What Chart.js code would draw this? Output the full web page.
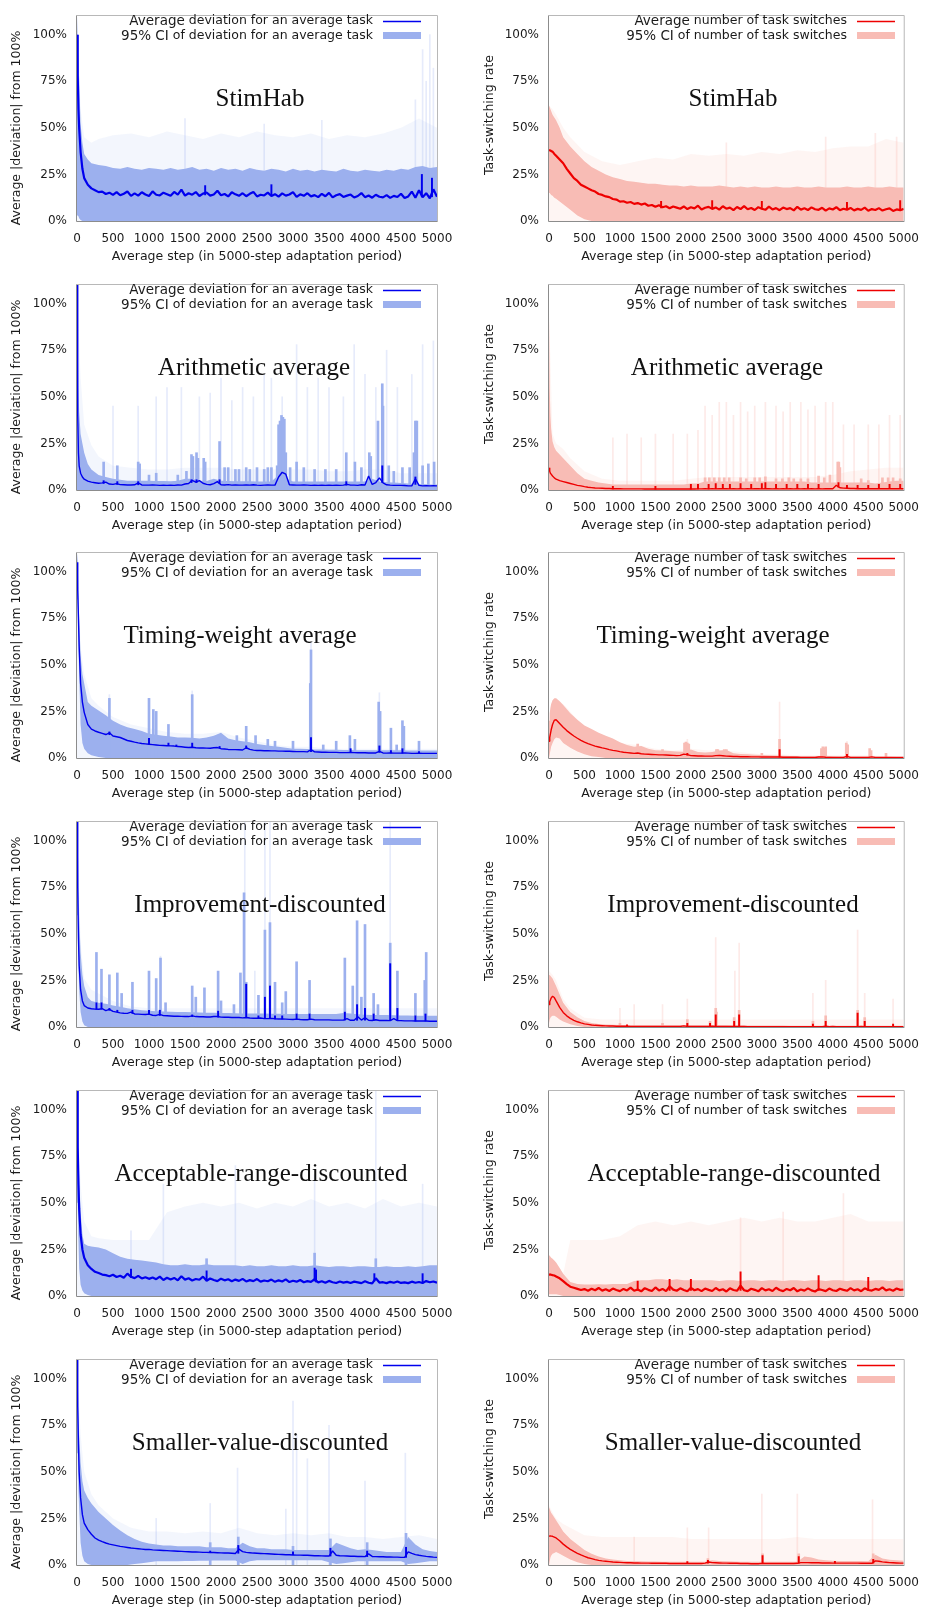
<!DOCTYPE html>
<html><head><meta charset="utf-8">
<script src="https://cdn.jsdelivr.net/npm/chart.js@4.4.1/dist/chart.umd.min.js"></script>
<style>
html,body{margin:0;padding:0;background:#fff;}
#wrap{position:relative;width:930px;height:1609px;overflow:hidden;}
.cell{position:absolute;width:465px;height:269px;}
canvas{display:block;}
</style></head><body><div id="wrap"></div>
<script>
// ---------- axes / text ----------
const X_TICKS = [0,500,1000,1500,2000,2500,3000,3500,4000,4500,5000];
const Y_TICKS = [0,25,50,75,100];
const X_TITLE = 'Average step (in 5000-step adaptation period)';
const Y_TITLE_DEV = 'Average |deviation| from 100%';
const Y_TITLE_SW = 'Task-switching rate';
const LEGEND_DEV = [['Average',' deviation for an average task'],['95% CI',' of deviation for an average task']];
const LEGEND_SW = [['Average',' number of task switches'],['95% CI',' of number of task switches']];
const TITLES = ['StimHab','Arithmetic average','Timing-weight average','Improvement-discounted','Acceptable-range-discounted','Smaller-value-discounted'];

// ---------- step grids ----------
const STEPS_FINE = [0,10,20,30,50,75,100,150,200,250,
300,350,400,450,500,550,600,650,700,750,
800,850,900,950,1000,1050,1100,1150,1200,1250,
1300,1350,1400,1450,1500,1550,1600,1650,1700,1750,
1800,1850,1900,1950,2000,2050,2100,2150,2200,2250,
2300,2350,2400,2450,2500,2550,2600,2650,2700,2750,
2800,2850,2900,2950,3000,3050,3100,3150,3200,3250,
3300,3350,3400,3450,3500,3550,3600,3650,3700,3750,
3800,3850,3900,3950,4000,4050,4100,4150,4200,4250,
4300,4350,4400,4450,4500,4550,4600,4650,4700,4750,
4800,4850,4900,4950,5000];
const STEPS_BAND = [0,10,20,30,50,75,100,150,
200,300,400,500,600,700,800,900,1000,1100,
1200,1300,1400,1500,1600,1700,1800,1900,2000,2100,
2200,2300,2400,2500,2600,2700,2800,2900,3000,3100,
3200,3300,3400,3500,3600,3700,3800,3900,4000,4100,
4200,4300,4400,4500,4600,4700,4800,4900,5000];
const STEPS_HAZE = [0,50,100,200,300,500,750,1000,1250,1500,1750,2000,2250,2500,2750,3000,3250,3500,3750,4000,4250,4500,4750,5000];

// ---------- 1. StimHab ----------
const stimDevMean = [100,78,60,50,37,28,23,19.5,17.5,16.5,
15.5,15.8,14.5,15.2,14,15.5,13.8,14.6,15.8,13.5,
14.8,13.6,15.4,14.2,13.4,15.9,14.1,13.7,15.2,14.4,
13.5,15.6,14.2,16.8,13.6,14.9,14.1,15.5,13.4,14.7,
15.3,13.6,14.2,16.2,13.8,14.5,13.2,15.4,14.3,13.5,
14.9,13.3,14.6,15.6,13.2,14.1,13.7,15.2,13.4,14.4,
13.1,14.8,13.6,14.2,15.5,12.9,14.3,13.5,14.9,13.2,
13.9,12.8,14.6,13.3,15.1,12.7,13.8,14.4,12.9,13.6,
14.2,12.6,13.4,15.0,12.8,13.7,12.5,14.1,13.0,12.7,
13.9,12.4,13.5,12.9,14.6,12.3,13.2,15.8,12.5,16.5,
12.8,14.9,12.2,17.0,13.0];
const stimDevUpper = [110,95,85,76,52,42,36,33,
31,30,29.5,28.5,28,29,28,27.5,28.5,28,
27.5,28.5,27.5,28,29,27.5,28,27,28.5,27.5,
28,27,28.5,27.5,27,28,27.5,26.5,28,27,
27.5,26.5,27.5,27,26.5,28,27,26.5,27.5,27,
26.5,27.5,27,28,27.5,29,29.5,28.5,29];
const stimDevLower = [5,3,2.5,1.5,0.5,0,0,0,
0,0,0,0,0,0,0,0,0,0,
0,0,0,0,0,0,0,0,0,0,
0,0,0,0,0,0,0,0,0,0,
0,0,0,0,0,0,0,0,0,0,
0,0,0,0,0,0,0,0,0];
const stimDevHaze = [110,60,45,42,44,46,47,45,48,46,44,47,45,48,46,45,47,44,46,45,47,50,55,50];
const stimDevHazeSpikes = [[1500,55],[2600,52],[3400,54],[4700,65],[4800,92],[4850,75],[4900,100],[4950,82]];
const stimDevBandSpikes = [];
const stimDevMeanSpikes = [[1780,14,19],[2700,14,19.5],[4790,13,25],[4930,13,23]];

const stimSwMean = [38,38,37.8,37.6,37.2,36,35,33,31,28,
25.5,23,21.5,19.5,18.5,17.5,16.5,15.8,14.5,14,
13.2,12.8,11.8,11.5,10.4,10.6,9.8,10.2,9.2,9.6,
8.8,9.4,8.2,8.6,7.6,8.4,7.4,7.9,6.8,7.8,
7.2,6.6,7.8,6.4,7.4,6.8,8.2,6.2,7.1,7.6,
6.5,7.3,6.1,7.9,6.6,7.2,5.8,7.5,6.4,8.0,
6.3,7.0,5.9,7.4,6.6,6.0,7.7,6.2,6.9,5.8,
7.2,6.4,6.9,5.7,7.6,6.1,6.8,5.9,7.3,6.3,
6.0,7.1,5.6,6.8,6.2,7.4,5.8,6.6,6.1,7.0,
5.7,6.5,6.0,7.2,5.5,6.4,5.9,6.9,5.6,6.3,
6.8,5.4,6.2,5.8,6.5];
const stimSwUpper = [62,61,60,59,57,55.5,54,50,
45,40,36,32,29,27,25,23.5,22.5,21.5,
21,20.5,20,20,19.5,19,19,18.5,19,18.5,
18.5,18.5,19,18.5,18,18.5,18,18.5,18,18,
18.5,18,18,18.5,18,18,18.5,18,18,18,
18.5,18,18,18.5,18,18,18.5,18,18];
const stimSwLower = [15,15,14.5,14,13.5,12.5,12,10.5,
9,6,3,1,0,0,0,0,0,0,
0,0,0,0,0,0,0,0,0,0,
0,0,0,0,0,0,0,0,0,0,
0,0,0,0,0,0,0,0,0,0,
0,0,0,0,0,0,0,0,0];
const stimSwHaze = [62,60,57,50,45,37,32,30,32,34,33,36,35,36,35,37,36,38,37,39,40,40,44,42];
const stimSwHazeSpikes = [[2500,42],[3900,45],[4600,47],[4900,45]];
const stimSwBandSpikes = [];
const stimSwMeanSpikes = [[1580,7,10.5],[2300,7,11],[3000,6.5,10.5],[4200,6.5,10],[4950,6,11]];

// ---------- 2. Arithmetic average ----------
const arithDevMean = [110,40,20,13,9,7,5.8,4.8,4.2,3.9,
3.6,3.8,4.2,3.2,3.0,3.4,2.9,2.8,2.7,2.7,
2.8,3.8,2.7,2.6,2.6,2.7,2.6,2.5,2.6,2.5,
2.6,2.5,2.7,2.6,3.2,3.5,5.2,4.2,5.0,3.6,
3.0,2.8,3.4,4.5,2.8,2.7,2.9,2.6,2.7,2.6,
2.6,2.7,2.6,2.8,2.6,2.5,2.6,2.7,2.6,2.6,
7.0,9.5,8.5,2.8,2.7,2.6,2.6,2.7,2.6,2.5,
2.6,2.5,2.6,2.5,2.6,2.5,2.6,2.5,2.6,3.0,
2.6,2.6,2.5,2.8,2.7,7.5,3.0,4.0,6.5,3.8,
2.8,2.6,2.5,2.5,2.5,2.4,2.2,2.2,6.0,2.5,
2.2,2.3,2.2,2.3,2.2];
const arithDevUpper = [110,80,55,42,30,25,20,14,
11,8,7,6,5.5,5,5,5,5,4.8,
4.8,4.7,5,6,6,5,4.8,6,5,4.8,
4.7,4.7,4.7,4.6,4.6,4.6,8,6,4.6,4.6,
4.6,4.6,4.5,4.5,4.5,4.5,4.5,4.5,4.5,6,
4.5,4.2,4.0,3.8,3.5,3.2,3.2,3.0,3.0];
const arithDevLower = [0,0,0,0,0,0,0,0,
0,0,0,0,0,0,0,0,0,0,
0,0,0,0,0,0,0,0,0,0,
0,0,0,0,0,0,0,0,0,0,
0,0,0,0,0,0,0,0,0,0,
0,0,0,0,0,0,0,0,0];
const arithDevHaze = [110,60,35,24,18,13,12,11,11,12,12,12,11,11,11,11,11,10,10,11,11,9,9,9];
const arithDevHazeSpikes = [[500,45],[850,45],[1100,50],[1250,55],[1450,55],[1700,50],[1850,52],[2000,60],[2150,48],[2300,55],[2450,50],[2600,62],[2700,60],[2850,50],[3050,78],[3200,55],[3350,60],[3500,55],[3700,50],[3850,78],[4000,62],[4150,55],[4300,75],[4450,55],[4650,62],[4800,78],[4950,80]];
const arithDevBandSpikes = [[370,15],[560,13],[850,15],[870,14],[1000,8],[1100,9],[1400,8],[1520,10],[1590,19],[1610,18],[1660,20],[1680,17],[1760,17],[1780,15],[1980,26],[2050,12],[2100,12],[2200,11],[2250,11],[2350,12],[2400,11],[2500,12],[2600,11],[2650,12],[2700,12],[2780,13],[2800,35],[2820,37],[2840,40],[2860,39],[2880,38],[2900,20],[2960,12],[3050,15],[3150,12],[3300,11],[3450,11],[3600,11],[3740,20],[3860,15],[3950,12],[4060,20],[4080,18],[4180,37],[4240,57],[4250,45],[4330,13],[4400,10],[4520,12],[4620,12],[4680,20],[4700,37],[4720,37],[4800,13],[4880,14],[4960,15]];
const arithDevMeanSpikes = [[370,3.5,5],[560,3,4.5],[850,2.8,4.5],[1590,4,5.5],[1660,4,5.5],[1980,3.5,5.5],[3740,2.6,4.5],[4240,4,13],[4700,3,7]];

const arithSwMean = [12,10,9,8.5,7.5,6.5,5.8,5,4.5,4,
3.5,3,2.5,2.2,1.8,1.5,1.3,1.1,1.0,0.9,
0.8,0.8,0.7,0.7,0.7,0.6,0.6,0.6,0.6,0.6,
0.6,0.5,0.5,0.5,0.5,0.5,0.5,0.5,0.5,0.5,
0.5,0.5,0.5,0.5,0.6,0.5,0.6,0.6,0.7,0.6,
0.7,0.6,0.7,0.7,0.7,0.6,0.7,0.6,0.7,0.6,
0.7,0.6,0.7,0.7,0.6,0.7,0.7,0.6,0.7,0.6,
0.7,0.6,0.7,0.6,0.7,0.6,0.7,0.6,0.7,0.6,
0.7,0.6,0.7,0.7,0.7,2.5,1.2,1.0,0.9,0.8,
0.8,0.7,0.7,0.7,0.7,0.7,0.7,0.7,0.7,0.7,
0.7,0.7,0.7,0.7,0.7];
const arithSwUpper = [92,55,40,33,26,23,21,19,
17,13,9,6,5,4,3.5,3,3,3,
3,3,3,3,3,3,3,3,3.5,3.5,
4.5,4.5,4.5,4.5,4.5,4.5,4.5,4.5,4.5,4.5,
4.5,4.5,4.5,4.5,4.5,4,4,4,4,4,
4,4,4,4,3.5,4,4.5,5,5];
const arithSwLower = [0,0,0,0,0,0,0,0,
0,0,0,0,0,0,0,0,0,0,
0,0,0,0,0,0,0,0,0,0,
0,0,0,0,0,0,0,0,0,0,
0,0,0,0,0,0,0,0,0,0,
0,0,0,0,0,0,0,0,0];
const arithSwHaze = [95,30,25,22,17,10,6,5,5,5,5,6,7,7,7,7,7,7,7,8,10,11,12,12];
const arithSwHazeSpikes = [[900,28],[1100,30],[1300,28],[1500,30],[1750,30],[1950,30],[2100,32],[2200,45],[2300,40],[2400,47],[2500,47],[2600,40],[2700,47],[2800,42],[2900,45],[3050,47],[3200,45],[3300,42],[3400,47],[3550,47],[3650,43],[3750,45],[3900,47],[4000,47],[4150,35],[4300,35],[4500,35],[4650,35],[4800,40],[4950,40]];
const arithSwBandSpikes = [[2200,6.5],[2260,6.5],[2330,6.5],[2400,6.5],[2470,6.5],[2540,6.5],[2700,6.5],[2780,6],[2900,6.5],[2970,6.5],[3050,7],[3200,6],[3290,6],[3380,6.5],[3450,6],[3550,6],[3650,6],[3800,7.5],[3880,6.5],[3960,8],[4070,15],[4085,15],[4100,12],[4400,6],[4500,5],[4700,6.5],[4780,6.5],[4850,6.5],[4950,6]];
const arithSwMeanSpikes = [[900,0.6,2],[1500,0.5,2],[2000,0.5,3],[2100,0.6,3],[2250,0.6,3],[2350,0.7,3.5],[2450,0.7,3],[2550,0.7,3],[2700,0.7,3.5],[2850,0.7,3],[3000,0.7,3.5],[3050,0.7,4],[3200,0.7,3],[3350,0.7,3],[3500,0.7,3],[3650,0.7,3],[3800,0.7,3],[4080,1.5,4],[4200,0.8,2.5],[4350,0.7,2.5],[4500,0.7,2.5],[4650,0.7,3],[4800,0.7,3],[4950,0.7,3]];

// ---------- 3. Timing-weight average ----------
const timeDevMean = [105,90,75,60,40,30,24.5,18,15.5,14.5,
13.8,13.2,12.6,13.5,11.8,11.4,11.0,10.2,9.4,9.0,
8.5,8.1,7.8,7.6,7.4,7.2,7.0,6.8,6.7,6.6,
6.5,6.4,6.2,6.0,5.8,5.6,5.8,5.5,5.4,5.4,
5.3,5.2,5.5,5.6,5.0,4.8,4.6,4.5,4.5,4.4,
4.3,5.5,4.6,4.2,4.0,4.0,3.9,3.9,3.8,3.8,
3.7,3.7,3.6,3.6,3.5,3.4,3.4,3.4,3.3,4.5,
3.3,3.2,3.1,3.1,3.0,3.0,3.0,2.9,2.9,2.9,
3.0,2.9,2.8,2.8,2.8,2.7,2.7,2.7,3.5,2.7,
2.6,2.7,2.6,2.6,2.6,2.7,2.6,2.5,2.5,2.6,
2.5,2.5,2.5,2.5,2.5];
const timeDevUpper = [110,105,90,75,55,45,40,30,
28,25.5,23,20,18,16.5,15.5,14.5,13,12.5,
12,11.5,11,11,10.8,10.5,11,12,13.5,10.5,
9.5,9,8.5,7.5,7,6.5,6,5.5,5,5,
4.8,4.6,4.5,4.4,4.4,4.3,4.3,4.2,4.2,4.2,
4.2,4.1,4.1,4.1,4,4,4,4,4];
const timeDevLower = [100,85,60,45,18,8,5,2.5,
1.5,0.5,0,0,0,0,0,0,0,0,
0,0,0,0,0,0,0,0,0,0,
0,0,0,0,0,0,0,0,0,0,
0,0,0,0,0,0,0,0,0,0,
0,0,0,0,0,0,0,0,0];
const timeDevHaze = [110,60,45,32,28,22,18,16,14,13,13,14,11,9,7,6,6,5,5,5,5,5,5,5];
const timeDevHazeSpikes = [[450,34],[1600,36],[3250,62],[4200,35]];
const timeDevBandSpikes = [[450,32],[1000,32],[1060,26],[1100,25],[1270,18],[1600,34],[2220,12],[2350,17],[2480,12],[2650,10],[2750,9],[3000,9],[3240,40],[3250,58],[3420,7],[3600,9],[3790,12],[3860,10],[4190,30],[4210,25],[4360,16],[4440,7],[4520,20],[4540,17],[4750,9]];
const timeDevMeanSpikes = [[450,12.5,14],[1000,7.4,10.5],[1270,6.6,8],[1380,6.3,7],[1600,5.8,8],[1980,5.5,6.2],[2350,5,6.5],[3250,3.4,11],[3800,3,5],[4200,3,6.5],[4360,2.7,4],[4520,2.6,5],[4750,2.6,3.5]];

const timeSwMean = [9,11,13,15,18,20.3,20.5,18.5,16.5,14.7,
13.2,11.8,10.6,9.5,8.5,7.7,7.0,6.4,5.9,5.4,
5.0,4.5,4.1,3.8,3.4,3.1,2.9,2.7,2.5,2.7,
2.3,2.1,2.0,1.9,1.8,1.7,1.7,1.6,1.5,1.4,
1.3,1.4,2.1,1.8,1.3,1.2,1.1,1.1,1.0,1.0,
1.0,1.3,1.4,1.2,1.0,0.9,0.8,0.8,0.7,0.7,
0.7,0.6,0.6,0.6,0.5,0.5,0.5,0.5,0.5,0.5,
0.4,0.4,0.4,0.4,0.4,0.3,0.3,0.3,0.3,0.3,
0.5,0.6,0.4,0.3,0.3,0.3,0.3,0.3,0.9,0.3,
0.3,0.3,0.3,0.3,0.3,0.6,0.3,0.3,0.3,0.3,
0.3,0.3,0.3,0.3,0.3];
const timeSwUpper = [20,24,27,29,31,32,32,30.5,
28.5,24,20.5,17.5,15.5,13.5,12,10.5,8.5,7,
6,6.5,5,4.2,4,3.8,3.5,3.4,4.5,3.2,
3,3.2,4,4.3,2.5,2.2,2,1.8,1.6,1.5,
1.4,1.2,1.1,1,1,1,1,1.2,0.9,0.8,
0.8,0.8,0.8,0.8,0.7,0.7,0.7,0.6,0.6];
const timeSwLower = [0,2,4,6,8,10,11,10.5,
8,5.5,3.5,2,1,0.5,0,0,0,0,
0,0,0,0,0,0,0,0,0,0,
0,0,0,0,0,0,0,0,0,0,
0,0,0,0,0,0,0,0,0,0,
0,0,0,0,0,0,0,0,0];
const timeSwHaze = [20,31,32,29,25,16,11,8,7,5,4,5,4,4,3,2,2,1.5,1.5,1.5,1.5,1.5,1,1];
const timeSwHazeSpikes = [[1950,10],[3250,30],[4200,9]];
const timeSwBandSpikes = [[1250,7.5],[1600,4.5],[1910,8],[1930,8.5],[1950,8],[1970,7.5],[2360,4.5],[2380,4.5],[2470,4.5],[2500,4.5],[3000,2.5],[3250,10],[3840,5],[3860,6],[3880,5.5],[3900,6],[4190,8],[4210,7],[4520,5],[4540,4],[4750,2.5]];
const timeSwMeanSpikes = [[1950,1.5,2.5],[3250,0.5,4.5],[4200,0.3,2]];

// ---------- 4. Improvement-discounted ----------
const impDevMean = [110,75,48,33,20,14,11.5,10.2,9.8,9.6,
9.5,9.8,8.8,9.5,8.4,8.0,7.6,7.4,7.3,8.0,
7.0,6.9,6.8,6.7,6.9,6.3,6.2,6.8,6.1,6.0,
5.9,5.8,5.8,5.7,5.6,5.6,6.0,5.6,5.5,5.5,
5.4,5.4,5.6,5.6,5.3,5.2,5.2,5.1,5.1,5.1,
4.9,5.1,4.8,4.7,4.7,4.8,4.5,4.5,4.6,4.4,
4.3,4.3,4.2,4.1,4.0,4.2,4.0,3.9,3.9,4.2,
3.9,3.8,3.8,3.8,3.8,3.7,3.7,3.7,3.7,4.5,
3.6,3.6,5.5,3.7,5.0,3.6,3.5,3.9,3.5,3.5,
3.5,3.4,4.5,3.4,3.4,3.3,3.3,3.3,3.2,3.2,
3.2,3.2,3.1,3.1,3.1];
const impDevUpper = [110,100,80,60,40,28,22,16,
14,13,12.5,11.5,10.8,10,9.5,9,8.7,8.5,
8.3,8.2,8,8,7.9,7.8,7.7,7.6,7.5,7.5,
7.4,7.3,7.3,7.2,7.2,7.1,7.1,7.0,7.0,7.0,
7.0,7.0,7.0,7.0,7.0,7.5,7.2,6.8,6.6,6.5,
6.5,6.4,6.3,6.2,6.2,6.1,6.1,6.0,6.0];
const impDevLower = [100,60,35,20,8,3,1,0,
0,0,0,0,0,0,0,0,0,0,
0,0,0,0,0,0,0,0,0,0,
0,0,0,0,0,0,0,0,0,0,
0,0,0,0,0,0,0,0,0,0,
0,0,0,0,0,0,0,0,0];
const impDevHaze = [110,45,26,20,18,14,11,10,10,10,10,10,10,10,10,10,10,10,10,10,10,10,10,10];
const impDevHazeSpikes = [[1160,38],[2330,110],[2470,30],[2610,110],[2680,110],[4350,110]];
const impDevBandSpikes = [[270,40],[340,31],[450,28],[560,29],[620,18],[770,24],[1000,30],[1100,26],[1160,37],[1230,13],[1600,22],[1650,16],[1770,21],[1960,30],[2000,14],[2180,12],[2270,29],[2320,72],[2350,24],[2520,17],[2610,52],[2680,56],[2750,24],[2850,13],[2900,19],[3050,35],[3230,25],[3720,37],[3830,22],[3890,57],[3950,16],[4000,55],[4120,18],[4180,12],[4350,45],[4450,30],[4700,18],[4830,25],[4850,40]];
const impDevMeanSpikes = [[270,9.5,13],[340,9.6,13],[450,9,10],[560,8.2,9],[770,7.3,9],[1000,6.8,9],[1150,6.2,9],[1600,5.6,6.5],[1960,5.3,8.5],[2350,5,23],[2520,4.7,6],[2610,4.5,16],[2680,4.5,22],[2750,4.4,6],[2850,4.3,6],[3050,4.2,7],[3230,3.9,7],[3720,3.7,8],[3890,3.6,12],[4000,3.6,10],[4120,3.5,7],[4350,3.4,34],[4450,3.4,10],[4700,3.2,6],[4840,3.2,7]];

const impSwMean = [12,13.5,14.5,15.5,16.5,15.8,14,10.5,7.8,6,
4.6,3.6,2.8,2.2,1.7,1.4,1.1,0.9,0.8,0.7,
0.6,0.5,0.5,0.4,0.4,0.4,0.4,0.3,0.3,0.3,
0.3,0.3,0.3,0.3,0.3,0.3,0.3,0.3,0.3,0.3,
0.3,0.3,0.6,0.3,0.3,0.3,0.3,0.3,0.3,0.3,
0.4,0.3,0.3,0.3,0.3,0.3,0.3,0.3,0.3,0.3,
0.2,0.2,0.2,0.2,0.2,0.2,0.2,0.2,0.2,0.2,
0.2,0.2,0.2,0.2,0.2,0.2,0.2,0.2,0.2,0.2,
0.2,0.2,0.4,0.2,0.3,0.2,0.2,0.2,0.2,0.2,
0.2,0.2,0.3,0.2,0.2,0.2,0.2,0.2,0.2,0.2,
0.2,0.2,0.2,0.2,0.2];
const impSwUpper = [28,28,27.5,27,26,24,22,17.5,
13,8,5.2,3.2,2.2,1.6,1.3,1.2,1.1,1.0,
1.0,1.0,0.9,0.9,0.9,0.9,0.9,1.0,0.9,0.9,
0.9,0.9,0.9,0.9,0.8,0.8,0.8,0.8,0.8,0.8,
0.8,0.8,0.7,0.7,0.7,0.7,0.7,0.7,0.7,0.7,
0.7,0.7,0.7,0.7,0.7,0.7,0.7,0.7,0.7];
const impSwLower = [2,4,5,5.5,6,6,5.5,4,
3,1.5,0.5,0,0,0,0,0,0,0,
0,0,0,0,0,0,0,0,0,0,
0,0,0,0,0,0,0,0,0,0,
0,0,0,0,0,0,0,0,0,0,
0,0,0,0,0,0,0,0,0];
const impSwHaze = [30,28,25,15,10,5,4,4,4,4,4,4,4,4,4,4,4,4,4,4,4,4,4,4];
const impSwHazeSpikes = [[1000,10],[1200,12],[1600,12],[1950,15],[2350,48],[2620,30],[2680,45],[3720,18],[3900,25],[4350,52],[4450,18],[4850,15]];
const impSwBandSpikes = [[1000,2],[1600,2],[1950,4],[2270,3],[2350,10],[2360,8],[2610,5],[2680,9],[3720,3],[3900,6],[4350,9],[4450,5]];
const impSwMeanSpikes = [[1100,0.4,1.2],[1950,0.3,2],[2270,0.3,2],[2350,0.3,6.5],[2610,0.3,3],[2680,0.3,6.5],[3720,0.2,1.5],[3900,0.2,3],[4350,0.2,7.5],[4450,0.2,3],[4850,0.2,1.5]];

// ---------- 5. Acceptable-range-discounted ----------
const accDevMean = [110,80,60,47,33,25,20.5,16.5,14.5,13,
12.3,11.5,11.2,10.6,11.4,10.2,10.9,9.8,12.0,10.3,
9.6,10.8,9.4,10.1,9.2,9.9,9.0,10.4,8.6,9.8,
8.9,9.7,8.4,10.6,8.8,9.5,8.3,9.1,8.7,10.4,
8.2,9.4,8.6,8.0,9.3,8.4,9.0,7.9,8.8,8.1,
9.2,7.8,8.5,8.0,9.1,7.7,8.3,7.9,8.8,7.6,
8.4,7.8,8.9,7.5,8.2,7.7,8.6,7.4,8.0,7.6,
9.0,7.3,7.9,7.1,8.1,7.4,7.0,7.8,7.2,7.6,
7.0,7.7,7.3,6.9,7.9,7.1,6.8,9.5,7.2,7.4,
6.9,7.6,7.1,7.8,7.0,7.3,6.9,7.7,7.1,7.5,
7.0,8.0,7.4,7.8,7.2];
const accDevUpper = [110,95,80,65,45,33,28,27,
26.5,26,25,23,21,20,19.5,19,18.5,18,
17,16.5,16.5,17,16.5,16.5,17,16.5,16.5,16.5,
16.5,16,16.5,16,16,16.5,16,16,16.5,16,
16,16.5,16,15.5,16,16,15.5,16,16,15.5,
15.5,16,15.5,15.5,16,15.5,16,16.5,16.5];
const accDevLower = [100,50,30,15,6,3,1.5,0.5,
0,0,0,0,0,0,0,0,0,0,
0,0,0,0,0,0,0,0,0,0,
0,0,0,0,0,0,0,0,0,0,
0,0,0,0,0,0,0,0,0,0,
0,0,0,0,0,0,0,0,0];
const accDevHaze = [110,60,40,32,31,30,30,30,45,48,50,48,50,47,50,48,52,48,50,47,52,48,50,48];
const accDevHazeSpikes = [[750,35],[1200,60],[2200,70],[3300,65],[4150,110],[4800,60]];
const accDevBandSpikes = [[1800,20],[3300,23],[4150,20]];
const accDevMeanSpikes = [[750,10,14.5],[1800,9,13.5],[3300,8,15],[3320,7.5,14],[4130,8,12],[4800,7,12]];

const accSwMean = [11.5,11.6,11.5,11.4,11.2,11,10.5,9.5,8,6.4,
5.0,4.4,3.8,3.2,3.7,2.8,3.9,3.1,4.3,2.9,
3.6,2.7,4.0,3.2,2.6,3.8,3.0,4.5,2.8,3.5,
2.5,4.2,3.3,2.7,4.6,3.0,3.8,2.6,5.2,3.4,
2.8,4.1,3.2,2.5,4.4,3.1,3.7,2.6,4.0,3.3,
2.7,4.3,3.0,3.6,2.4,4.1,3.2,2.8,5.5,3.1,
2.6,3.9,3.3,2.5,4.2,3.0,3.6,2.7,4.4,3.2,
2.6,3.8,3.1,4.3,2.5,3.5,2.9,4.1,3.0,2.4,
3.7,3.2,2.6,4.0,3.1,2.7,3.9,3.3,2.8,4.2,
3.0,3.6,2.6,4.1,3.2,2.9,3.8,3.3,4.6,3.0,
3.6,2.8,4.0,3.3,3.5];
const accSwUpper = [22,21.5,21,20.5,20,19,18,15,
12,7.5,6.5,6.2,6.2,6.3,6.2,6.4,6.5,6.5,
8,8.5,8.5,9,9,8.5,9,8.5,8.5,8.5,
8.5,8.5,8,8.5,8.5,8,8.5,8.5,8,8.5,
8.5,8,8.5,8.5,8,8.5,8.5,8,8.5,8.5,
8,8.5,8.5,8,8.5,8.5,8,8.5,8.5];
const accSwLower = [1,1,1,1,1,1,1,0.5,
0,0,0,0,0,0,0,0,0,0,
0,0,0,0,0,0,0,0,0,0,
0,0,0,0,0,0,0,0,0,0,
0,0,0,0,0,0,0,0,0,0,
0,0,0,0,0,0,0,0,0];
const accSwHaze = [22,20,18,12,30,30,30,32,38,40,38,40,38,40,42,40,42,40,40,42,44,40,40,40];
const accSwHazeSpikes = [[2700,42],[3300,45],[4150,55]];
const accSwBandSpikes = [];
const accSwMeanSpikes = [[1250,3,8],[1700,3,9],[2000,3,9],[2700,3,13],[3800,3,11],[4500,3,10]];

// ---------- 6. Smaller-value-discounted ----------
const smallDevMean = [110,85,65,50,36,27,22.5,19,16.5,14.5,
13.3,12.5,11.8,11.2,10.8,10.4,10.0,9.7,9.4,9.1,
8.9,8.7,8.5,8.3,8.4,8.1,8.0,7.9,7.8,7.7,
7.6,7.5,7.4,7.3,7.2,7.1,7.0,7.0,6.9,6.8,
6.8,6.7,6.7,6.6,6.5,6.4,6.4,6.3,6.2,8.5,
7.2,6.8,6.6,6.4,6.3,6.2,6.1,6.0,5.9,5.8,
5.7,5.6,5.5,5.5,5.4,5.3,5.3,5.2,5.2,5.1,
5.0,5.0,4.9,4.8,4.8,7.5,5.2,5.0,4.9,4.8,
4.7,4.7,4.6,4.6,4.5,6.0,4.6,4.5,4.4,4.4,
4.3,4.3,4.2,4.2,4.1,4.1,7.0,6.2,5.6,5.2,
4.9,4.6,4.4,4.2,4.1];
const smallDevUpper = [110,100,85,70,55,45,40,36,
33,28.5,25,21.5,18.5,16,14,12.5,11.5,11,
10.5,10.5,10,10,10,10,9.5,9.5,9.5,9,
9,12,10,9,9,8.5,8.5,8.5,8,8,
8,8,8,8,12,10.5,9,8,8.5,8,
7.5,7,7,7,15,11,8.5,7.5,7];
const smallDevLower = [90,60,40,30,12,5,2,0.5,
0,0,0,0,0,0,0.5,1,1.5,2,
2,2,2,2.2,2.2,2.3,2.3,2.4,2.4,2.4,
2.4,0.5,2,2.5,2.5,2.5,2.5,2.5,2.5,2.5,
2.5,2.5,2.5,1.5,0.5,1,1.5,2,2,2,
2,2,2,2,0.5,1,1.5,2,2];
const smallDevHaze = [110,70,50,38,32,25,20,18,18,17,18,17,20,17,16,17,16,17,15,15,14,15,16,14];
const smallDevHazeSpikes = [[1100,25],[1850,33],[2230,52],[2900,30],[3000,88],[3050,70],[3200,57],[3500,75],[4000,45],[4560,60]];
const smallDevBandSpikes = [[1850,12],[2240,15],[3000,10],[3520,14],[4030,12],[4570,17]];
const smallDevMeanSpikes = [[1850,6.7,7.5],[2240,6.3,10.5],[3000,5.5,7],[3520,4.8,9],[4030,4.5,7.5],[4570,4.1,9.5]];

const smallSwMean = [15.5,15.6,15.6,15.5,15.4,15,14.5,13,11.2,9.7,
8.4,7.3,6.3,5.4,4.6,3.9,3.4,2.9,2.5,2.2,
2.0,1.8,1.6,1.5,1.4,1.3,1.2,1.2,1.1,1.1,
1.0,1.0,1.0,0.9,0.9,0.9,0.9,0.9,0.8,0.8,
0.8,0.8,0.8,0.8,0.8,0.8,0.8,0.8,1.0,1.6,
1.3,1.2,1.1,1.0,1.0,0.9,0.9,0.9,0.8,0.8,
0.8,0.7,0.7,0.7,0.9,0.8,0.8,0.8,0.8,0.8,
0.8,0.8,0.8,0.8,0.9,1.3,1.3,1.3,1.2,1.2,
1.2,1.1,1.1,1.1,1.0,1.0,1.0,1.0,1.0,1.0,
1.0,1.0,0.9,0.9,0.9,0.9,2.2,2.0,1.7,1.5,
1.3,1.2,1.1,1.0,1.0];
const smallSwUpper = [31,30,29,28,27,25.5,24,21,
18,14,11,8,6,4.5,3.5,3,2.5,2.2,
2,2,1.9,1.9,1.8,1.8,1.8,1.8,1.8,1.8,
1.8,2.6,2.2,2,1.9,1.8,1.8,1.7,1.7,1.7,
1.7,1.7,1.7,1.8,4.5,4,3,2.5,2.3,2.2,
2.2,2.1,2.1,2,5.5,3.5,2.8,2.5,2.3];
const smallSwLower = [0,2,4,5,6,6.5,7,6,
5,3,1.5,0.5,0,0,0,0,0,0,
0,0,0,0,0,0,0,0,0,0,
0,0,0,0,0,0,0,0,0,0,
0,0,0,0,0,0,0,0,0,0,
0,0,0,0,0,0,0,0,0];
const smallSwHaze = [32,28,25,22,20,16,15,15,15,15,15,14,14,14,14,14,14,15,14,14,14,14,14,14];
const smallSwHazeSpikes = [[1200,15],[1950,20],[2250,20],[3000,38],[3500,38],[4560,35]];
const smallSwBandSpikes = [[2240,3.5],[3010,6],[3520,6],[4570,6]];
const smallSwMeanSpikes = [[1950,0.8,1.8],[2240,1,2.5],[3010,0.8,5],[3520,1,4.5],[4030,1,2],[4570,1,3]];

// ---------- panel table (built from the arrays above) ----------
const PANELS = [
 [{mean:stimDevMean,upper:stimDevUpper,lower:stimDevLower,haze:stimDevHaze,hs:stimDevHazeSpikes,bs:stimDevBandSpikes,ms:stimDevMeanSpikes},
  {mean:stimSwMean,upper:stimSwUpper,lower:stimSwLower,haze:stimSwHaze,hs:stimSwHazeSpikes,bs:stimSwBandSpikes,ms:stimSwMeanSpikes}],
 [{mean:arithDevMean,upper:arithDevUpper,lower:arithDevLower,haze:arithDevHaze,hs:arithDevHazeSpikes,bs:arithDevBandSpikes,ms:arithDevMeanSpikes},
  {mean:arithSwMean,upper:arithSwUpper,lower:arithSwLower,haze:arithSwHaze,hs:arithSwHazeSpikes,bs:arithSwBandSpikes,ms:arithSwMeanSpikes}],
 [{mean:timeDevMean,upper:timeDevUpper,lower:timeDevLower,haze:timeDevHaze,hs:timeDevHazeSpikes,bs:timeDevBandSpikes,ms:timeDevMeanSpikes},
  {mean:timeSwMean,upper:timeSwUpper,lower:timeSwLower,haze:timeSwHaze,hs:timeSwHazeSpikes,bs:timeSwBandSpikes,ms:timeSwMeanSpikes}],
 [{mean:impDevMean,upper:impDevUpper,lower:impDevLower,haze:impDevHaze,hs:impDevHazeSpikes,bs:impDevBandSpikes,ms:impDevMeanSpikes},
  {mean:impSwMean,upper:impSwUpper,lower:impSwLower,haze:impSwHaze,hs:impSwHazeSpikes,bs:impSwBandSpikes,ms:impSwMeanSpikes}],
 [{mean:accDevMean,upper:accDevUpper,lower:accDevLower,haze:accDevHaze,hs:accDevHazeSpikes,bs:accDevBandSpikes,ms:accDevMeanSpikes},
  {mean:accSwMean,upper:accSwUpper,lower:accSwLower,haze:accSwHaze,hs:accSwHazeSpikes,bs:accSwBandSpikes,ms:accSwMeanSpikes}],
 [{mean:smallDevMean,upper:smallDevUpper,lower:smallDevLower,haze:smallDevHaze,hs:smallDevHazeSpikes,bs:smallDevBandSpikes,ms:smallDevMeanSpikes},
  {mean:smallSwMean,upper:smallSwUpper,lower:smallSwLower,haze:smallSwHaze,hs:smallSwHazeSpikes,bs:smallSwBandSpikes,ms:smallSwMeanSpikes}]
];

// ---------- layout & style ----------
const ROW_TOP = [0,269,537,806,1075,1344];
const CELL_W = 465, CELL_H = 269;
const COLS = [
 {left:0,   yW:77, padR:28, yTitleX:17, yTitleY:128, legendX:373, titleX:260, yTitle:Y_TITLE_DEV, legend:LEGEND_DEV,
  line:'#0000ee', band:'rgb(156,176,238)', haze:'rgba(140,162,236,0.10)', hazeSpike:'rgba(140,162,236,0.22)'},
 {left:465, yW:84, padR:19, yTitleX:25, yTitleY:115, legendX:382, titleX:268, yTitle:Y_TITLE_SW, legend:LEGEND_SW,
  line:'#ee0000', band:'rgb(248,188,181)', haze:'rgba(246,160,150,0.11)', hazeSpike:'rgba(246,160,150,0.22)'}
];
const TITLE_SHIFT = [0,-6,-20,0,1,0];
const LINE_W = [2.2,1.4,1.4,1.4,2.2,1.4];
const SANS = '"DejaVu Sans", sans-serif';
const SERIF = '"Liberation Serif", "DejaVu Serif", serif';
const TEXT = '#1a1a1a';

function pts(xs, ys){ return xs.map((x,i)=>({x:x, y:ys[i]})); }

const deco = {
  id:'deco',
  afterDraw(chart){
    const o = chart.options.plugins.deco;
    const ctx = chart.ctx, a = chart.chartArea;
    ctx.save();
    ctx.lineWidth = 1;
    ctx.strokeStyle = '#b8b8b8';
    ctx.beginPath();
    ctx.moveTo(a.left-0.5, a.top-0.5); ctx.lineTo(a.right+0.5, a.top-0.5); ctx.lineTo(a.right+0.5, a.bottom+0.5);
    ctx.stroke();
    ctx.strokeStyle = '#8c8c8c';
    ctx.beginPath();
    ctx.moveTo(a.left-0.5, a.top-0.5); ctx.lineTo(a.left-0.5, a.bottom+0.5); ctx.lineTo(a.right+0.5, a.bottom+0.5);
    ctx.stroke();
    ctx.fillStyle = '#111';
    ctx.font = '25px ' + SERIF;
    ctx.textAlign = 'center'; ctx.textBaseline = 'middle';
    ctx.fillText(o.title, o.titleX, 99);
    ctx.font = '12.5px ' + SANS;
    ctx.fillStyle = TEXT;
    ctx.fillText(X_TITLE, (a.left + a.right)/2, 257);
    ctx.save();
    ctx.translate(o.yTitleX, o.yTitleY);
    ctx.rotate(-Math.PI/2);
    ctx.fillText(o.yTitle, 0, 0);
    ctx.restore();
    const rows = [21, 36];
    ctx.textAlign = 'right';
    o.legend.forEach((pair, i) => {
      ctx.font = '12.5px ' + SANS;
      const w = ctx.measureText(pair[1]).width;
      ctx.fillText(pair[1], o.legendX, rows[i]);
      ctx.font = '13.5px ' + SANS;
      ctx.fillText(pair[0], o.legendX - w, rows[i]);
    });
    ctx.strokeStyle = o.line; ctx.lineWidth = 1.5;
    ctx.beginPath(); ctx.moveTo(o.legendX + 10, 21.5); ctx.lineTo(o.legendX + 48, 21.5); ctx.stroke();
    ctx.fillStyle = o.band;
    ctx.fillRect(o.legendX + 10, 32, 38, 7);
    ctx.restore();
  }
};

const wrap = document.getElementById('wrap');
PANELS.forEach((row, r) => {
  row.forEach((p, c) => {
    const col = COLS[c];
    const cell = document.createElement('div');
    cell.className = 'cell';
    cell.style.left = col.left + 'px';
    cell.style.top = ROW_TOP[r] + 'px';
    const cv = document.createElement('canvas');
    cv.width = CELL_W; cv.height = CELL_H;
    cell.appendChild(cv);
    wrap.appendChild(cell);

    const lineBase = {pointRadius:0, pointHoverRadius:0, tension:0, spanGaps:true};
    const barBase = {grouped:false, borderWidth:0, borderSkipped:false};
    new Chart(cv, {
      type:'line',
      data:{datasets:[
        Object.assign({label:'haze', data:pts(STEPS_HAZE, p.haze), fill:'origin', backgroundColor:col.haze, borderWidth:0, order:6}, lineBase),
        Object.assign({type:'bar', label:'haze spikes', data:p.hs.map(s=>({x:s[0], y:[0, s[1]]})), backgroundColor:col.hazeSpike, barThickness:1, order:5}, barBase),
        Object.assign({label:'CI lower', data:pts(STEPS_BAND, p.lower), fill:false, borderWidth:0, order:4}, lineBase),
        Object.assign({label:'CI upper', data:pts(STEPS_BAND, p.upper), fill:'-1', backgroundColor:col.band, borderColor:col.band, borderWidth:0, order:3}, lineBase),
        Object.assign({type:'bar', label:'CI spikes', data:p.bs.map(s=>({x:s[0], y:[0, s[1]]})), backgroundColor:col.band, barThickness:2, order:2}, barBase),
        Object.assign({label:'mean', data:pts(STEPS_FINE, p.mean), fill:false, borderColor:col.line, borderWidth:LINE_W[r], borderJoinStyle:'bevel', order:1}, lineBase),
        Object.assign({type:'bar', label:'mean spikes', data:p.ms.map(s=>({x:s[0], y:[s[1], s[2]]})), backgroundColor:col.line, barThickness:1.3, order:0}, barBase)
      ]},
      options:{
        responsive:false, animation:false, devicePixelRatio:1,
        layout:{padding:{left:0, right:col.padR, top:7, bottom:0}},
        events:[],
        plugins:{
          legend:{display:false}, tooltip:{enabled:false},
          deco:{title:TITLES[r], titleX:col.titleX + TITLE_SHIFT[r], yTitle:col.yTitle, yTitleX:col.yTitleX, yTitleY:col.yTitleY,
                legend:col.legend, legendX:col.legendX, line:col.line, band:col.band}
        },
        scales:{
          x:{type:'linear', min:0, max:5000, offset:false,
             afterBuildTicks:s=>{ s.ticks = X_TICKS.map(v=>({value:v})); },
             afterFit:s=>{ s.height = CELL_H - 221; },
             ticks:{autoSkip:false, maxRotation:0, minRotation:0, padding:11, color:TEXT, font:{family:SANS, size:12}, callback:v=>String(v)},
             grid:{display:false, drawTicks:false}, border:{display:false}, title:{display:false}},
          y:{type:'linear', min:0, max:110,
             afterBuildTicks:s=>{ s.ticks = Y_TICKS.map(v=>({value:v})); },
             afterFit:s=>{ s.width = col.yW; },
             ticks:{padding:10, color:TEXT, font:{family:SANS, size:12, lineHeight:1}, callback:v=>v + '%'},
             grid:{display:false, drawTicks:false}, border:{display:false}, title:{display:false}}
        }
      },
      plugins:[deco]
    });
  });
});
</script>
</body></html>
